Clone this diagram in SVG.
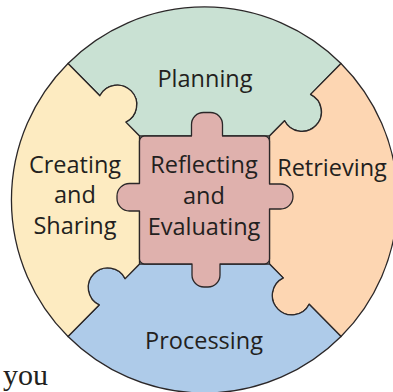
<svg xmlns="http://www.w3.org/2000/svg" width="393" height="392" viewBox="0 0 393 392">
<style>
.piece{stroke:#2b2728;stroke-width:1.3;stroke-linejoin:round}
.lbl{font-family:"Open Sans","Noto Sans",sans-serif;font-size:23.5px;fill:#231f20;text-anchor:middle}
</style>
<rect width="393" height="392" fill="#ffffff"/>
<g id="planning">
<path class="piece" fill="#c9e1d3" d="M139.5,136 L125.81,122.11 A19.5,19.5 0 1 0 99.83,95.77 L68,63.5 A193,193 0 0 1 341,63.5 L310.58,94.35 A19.5,19.5 0 1 1 284.6,120.69 L269.5,136 Z"/>
<text class="lbl" x="205" y="87">Planning</text>
</g>
<g id="retrieving">
<path class="piece" fill="#fdd6b2" d="M269.5,136 L284.6,120.69 A19.5,19.5 0 1 0 310.58,94.35 L341,63.5 A193,193 0 0 1 341,336.5 L309.17,304.23 A19.5,19.5 0 1 1 283.19,277.89 L269.5,264 Z"/>
<text class="lbl" x="332" y="176">Retrieving</text>
</g>
<g id="processing">
<path class="piece" fill="#aecbe9" d="M269.5,264 L283.19,277.89 A19.5,19.5 0 1 0 309.17,304.23 L341,336.5 A193,193 0 0 1 68,336.5 L99.12,304.94 A19.5,19.5 0 1 1 125.1,278.6 L139.5,264 Z"/>
<text class="lbl" x="204" y="349">Processing</text>
</g>
<g id="creating">
<path class="piece" fill="#fdebc1" d="M139.5,264 L125.1,278.6 A19.5,19.5 0 1 0 99.12,304.94 L68,336.5 A193,193 0 0 1 68,63.5 L99.83,95.77 A19.5,19.5 0 1 1 125.81,122.11 L139.5,136 Z"/>
<text class="lbl" x="75" y="173">Creating</text>
<text class="lbl" x="75" y="203">and</text>
<text class="lbl" x="75" y="234">Sharing</text>
</g>
<g id="reflecting">
<path class="piece" fill="#dfb1ad" d="M144.5,136 H191.5 V124.5 A12,12 0 0 1 203.5,112.5 H210.5 A12,12 0 0 1 222.5,124.5 V136 H264.5 A5,5 0 0 1 269.5,141 V184 H280.5 A12.5,12.5 0 0 1 293,196.5 A12.5,12.5 0 0 1 280.5,209 H269.5 V259 A5,5 0 0 1 264.5,264 H220 V275 A12,12 0 0 1 208,287 H204 A12,12 0 0 1 192,275 V264 H144.5 A5,5 0 0 1 139.5,259 V211 H129.5 A12.5,12.5 0 0 1 117,198.5 V196 A12.5,12.5 0 0 1 129.5,183.5 H139.5 V141 A5,5 0 0 1 144.5,136 Z"/>
<text class="lbl" x="204" y="173">Reflecting</text>
<text class="lbl" x="204" y="204">and</text>
<text class="lbl" x="204" y="235">Evaluating</text>
</g>
<text x="3" y="385" font-family="'Liberation Serif',serif" font-size="30" fill="#231f20">you</text>
</svg>
